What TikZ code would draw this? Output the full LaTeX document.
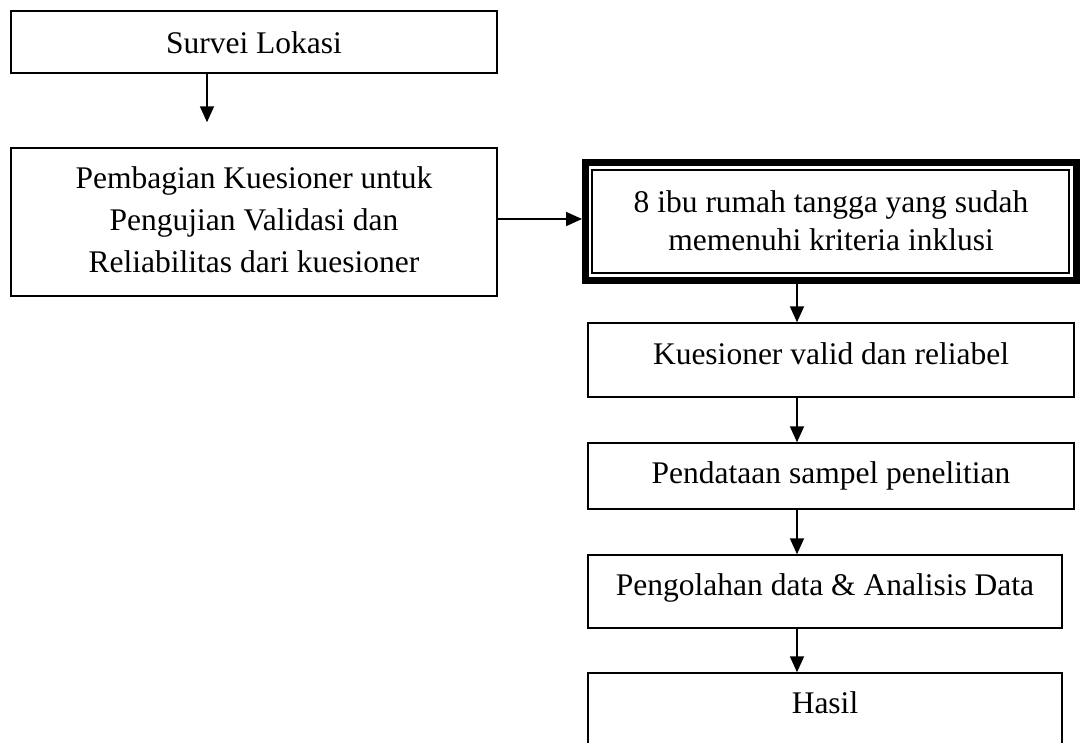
\documentclass[tikz,border=0pt]{standalone}
\usepackage{fontspec}
\setmainfont{Liberation Serif}
\usetikzlibrary{arrows.meta,calc}
\tikzset{
  box/.style={draw=black, line width=1.5pt, inner sep=0pt, fill=none},
  thickbox/.style={draw=black, line width=7pt, inner sep=0pt},
  txt/.style={anchor=base, inner sep=0pt, font=\fontsize{31.5}{38}\selectfont},
  arr/.style={line width=1.8pt, -{Triangle[length=16pt,width=14pt]}}
}
\begin{document}
\begin{tikzpicture}[x=1pt,y=-1pt]
\useasboundingbox (0,0) rectangle (1083,742);
\clip (0,0) rectangle (1083,742);
\fill[white] (0,0) rectangle (1083,742);
% boxes
\node[box, minimum width=486pt, minimum height=62pt] (b1) at (254,42) {};
\node[box, minimum width=486pt, minimum height=148pt] (b2) at (254,222) {};
\node[thickbox, minimum width=491pt, minimum height=118.5pt] (d) at (831,221.25) {};
\node[box, minimum width=477pt, minimum height=103pt] (di) at (830.5,221.5) {};
\node[box, minimum width=486pt, minimum height=74pt] (b3) at (831,360) {};
\node[box, minimum width=486pt, minimum height=66pt] (b4) at (831,476) {};
\node[box, minimum width=474pt, minimum height=73pt] (b5) at (825,591.5) {};
\node[box, minimum width=474pt, minimum height=127pt] (b6) at (825,736.5) {};
% texts
\node[txt] (t1) at (254,53) {Survei Lokasi};
\node[txt] (t2a) at (254,188) {Pembagian Kuesioner untuk};
\node[txt] (t2b) at (254,230) {Pengujian Validasi dan};
\node[txt] (t2c) at (254,272) {Reliabilitas dari kuesioner};
\node[txt] (tda) at (831,212) {8 ibu rumah tangga yang sudah};
\node[txt] (tdb) at (831,250) {memenuhi kriteria inklusi};
\node[txt] (t3) at (831,364) {Kuesioner valid dan reliabel};
\node[txt] (t4) at (831,483) {Pendataan sampel penelitian};
\node[txt] (t5) at (825,595) {Pengolahan data \& Analisis Data};
\node[txt] (t6) at (825,713) {Hasil};
% connectors
\coordinate (axl) at (207,0);
\coordinate (ax) at (797,0);
\coordinate (ay) at (0,219);
\draw[arr, shorten >=25pt] (b1.south -| axl) -- (b2.north -| axl);
\draw[arr] (b2.east |- ay) -- (d.west |- ay);
\draw[arr] (d.south -| ax) -- (b3.north -| ax);
\draw[arr] (b3.south -| ax) -- (b4.north -| ax);
\draw[arr] (b4.south -| ax) -- (b5.north -| ax);
\draw[arr] (b5.south -| ax) -- (b6.north -| ax);
\end{tikzpicture}
\end{document}
